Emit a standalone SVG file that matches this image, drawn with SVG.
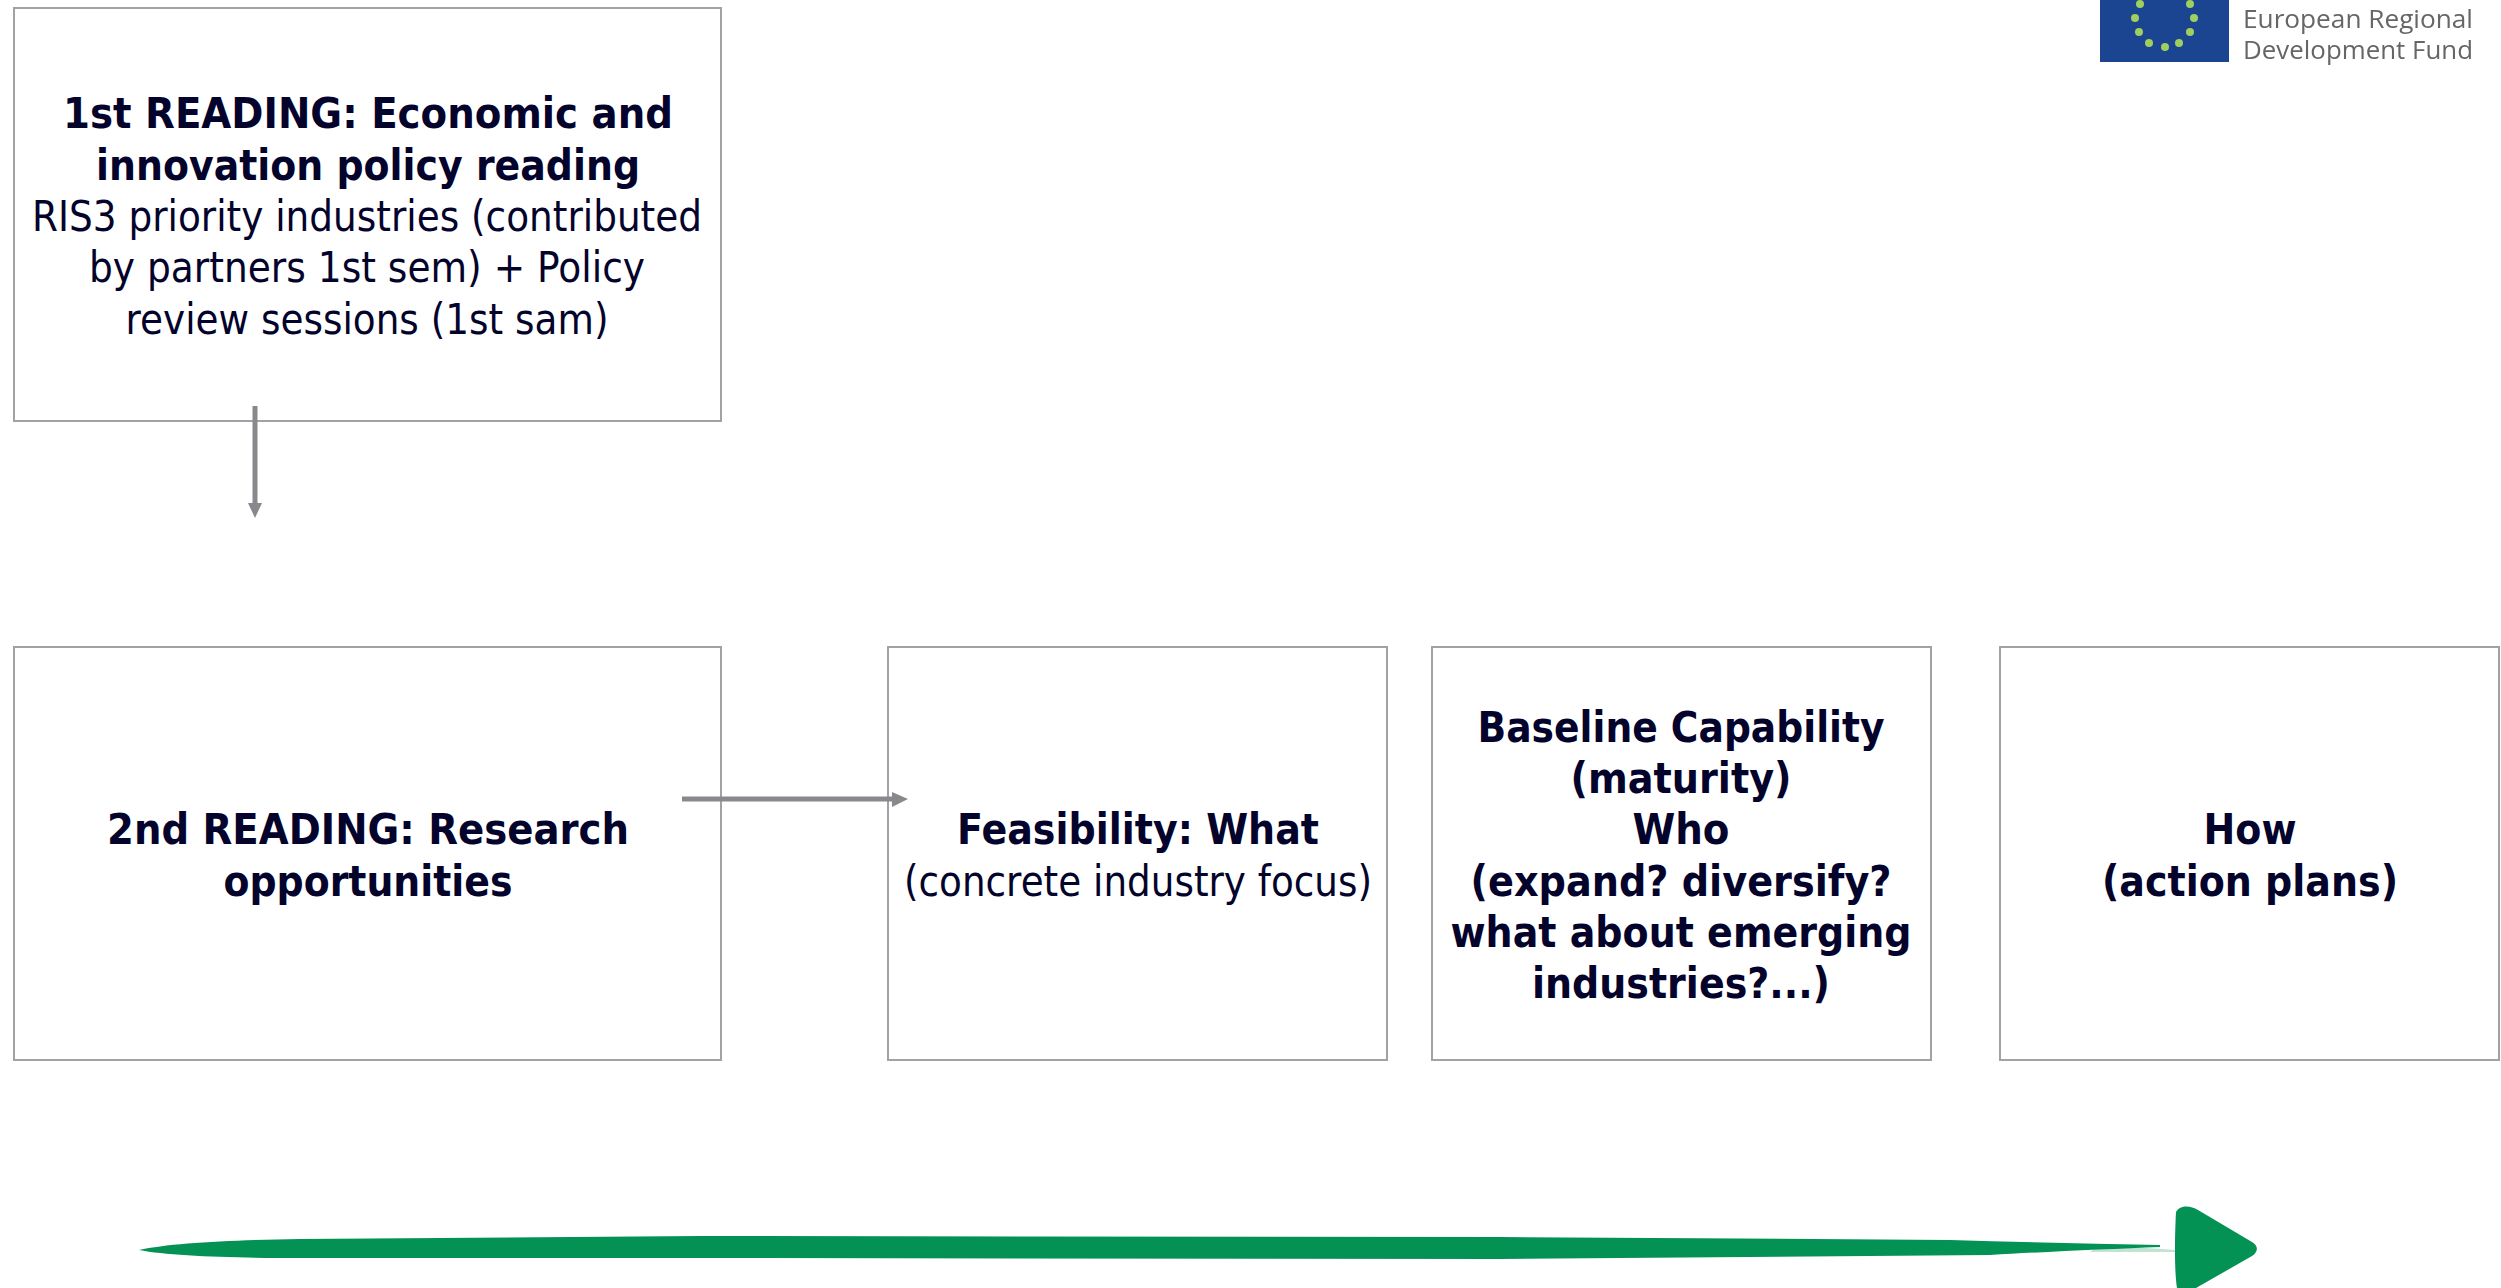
<svg xmlns="http://www.w3.org/2000/svg" width="2501" height="1288" viewBox="0 0 2501 1288">
<defs>
<style>
.box{fill:#fff;stroke:#a0a2a6;stroke-width:2}
text{font-family:"DejaVu Sans","Liberation Sans",sans-serif;font-size:42.67px;fill:#03032b;text-anchor:middle}
.b{font-weight:700}
.conn{stroke:#87898c;stroke-width:5;fill:none}
.head{fill:#87898c}
.logo{font-family:"Open Sans","Liberation Sans",sans-serif;font-size:26px;fill:#666;text-anchor:start}
.star{fill:#9fcf5e}
</style>
<filter id="soft" x="-5%" y="-5%" width="110%" height="110%"><feGaussianBlur stdDeviation="0.7"/></filter>
</defs>
<rect width="2501" height="1288" fill="#fff"/>
<g id="node-first">
<rect class="box" x="14" y="8" width="707" height="413"/>
<text class="b" x="368" y="128" textLength="610" lengthAdjust="spacingAndGlyphs">1st READING: Economic and</text>
<text class="b" x="368" y="180" textLength="544" lengthAdjust="spacingAndGlyphs">innovation policy reading</text>
<text x="367" y="231" textLength="670" lengthAdjust="spacingAndGlyphs">RIS3 priority industries (contributed</text>
<text x="367" y="282" textLength="556" lengthAdjust="spacingAndGlyphs">by partners 1st sem) + Policy</text>
<text x="367" y="334" textLength="483" lengthAdjust="spacingAndGlyphs">review sessions (1st sam)</text>
</g>
<g id="node-second">
<rect class="box" x="14" y="647" width="707" height="413"/>
<text class="b" x="368" y="844" textLength="522" lengthAdjust="spacingAndGlyphs">2nd READING: Research</text>
<text class="b" x="368" y="896" textLength="289" lengthAdjust="spacingAndGlyphs">opportunities</text>
</g>
<g id="node-feasibility">
<rect class="box" x="888" y="647" width="499" height="413"/>
<text class="b" x="1138" y="844" textLength="362" lengthAdjust="spacingAndGlyphs">Feasibility: What</text>
<text x="1138" y="896" textLength="468" lengthAdjust="spacingAndGlyphs">(concrete industry focus)</text>
</g>
<g id="node-baseline">
<rect class="box" x="1432" y="647" width="499" height="413"/>
<text class="b" x="1681" y="742" textLength="407" lengthAdjust="spacingAndGlyphs">Baseline Capability</text>
<text class="b" x="1681" y="793" textLength="221" lengthAdjust="spacingAndGlyphs">(maturity)</text>
<text class="b" x="1681" y="844" textLength="97" lengthAdjust="spacingAndGlyphs">Who</text>
<text class="b" x="1681" y="896" textLength="421" lengthAdjust="spacingAndGlyphs">(expand? diversify?</text>
<text class="b" x="1681" y="947" textLength="461" lengthAdjust="spacingAndGlyphs">what about emerging</text>
<text class="b" x="1681" y="998" textLength="298" lengthAdjust="spacingAndGlyphs">industries?...)</text>
</g>
<g id="node-how">
<rect class="box" x="2000" y="647" width="499" height="413"/>
<text class="b" x="2250" y="844" textLength="93" lengthAdjust="spacingAndGlyphs">How</text>
<text class="b" x="2250" y="896" textLength="296" lengthAdjust="spacingAndGlyphs">(action plans)</text>
</g>
<g id="connectors">
<path class="conn" d="M255 406V506"/>
<polygon class="head" points="248,503 262,503 255,518"/>
<path class="conn" d="M682 799H895"/>
<polygon class="head" points="892,792 892,807 908,799"/>
</g>
<g id="timeline-arrow">
<path fill="#049154" d="M139 1250C170 1243 230 1240 300 1239L700 1236L1500 1237L1950 1240C2020 1242 2090 1244 2160 1245V1247C2110 1249 2040 1252 1990 1255L1500 1259L700 1258L300 1258C230 1258 170 1256 139 1250Z"/>
<path fill="#049154" opacity="0.25" d="M2100 1245L2176 1250V1252L2090 1252Z"/>
<path fill="#049154" d="M2176 1212C2180 1205 2190 1205 2198 1210L2252 1242C2259 1246 2258 1252 2252 1256L2196 1288H2177C2174 1270 2175 1230 2176 1212Z"/>
</g>
<g id="logo" filter="url(#soft)">
<rect x="2100" y="0" width="129" height="62" fill="#1a4591"/>
<g class="star">
<circle cx="2140" cy="4" r="4"/><circle cx="2190" cy="4" r="4"/>
<circle cx="2135" cy="18" r="4"/><circle cx="2194" cy="18" r="4"/>
<circle cx="2139" cy="32" r="4"/><circle cx="2190" cy="32" r="4"/>
<circle cx="2149" cy="43" r="4"/><circle cx="2165" cy="47" r="4"/><circle cx="2179" cy="43" r="4"/>
</g>
<text class="logo" x="2243" y="28" textLength="230" lengthAdjust="spacingAndGlyphs">European Regional</text>
<text class="logo" x="2243" y="59" textLength="230" lengthAdjust="spacingAndGlyphs">Development Fund</text>
</g>
</svg>
